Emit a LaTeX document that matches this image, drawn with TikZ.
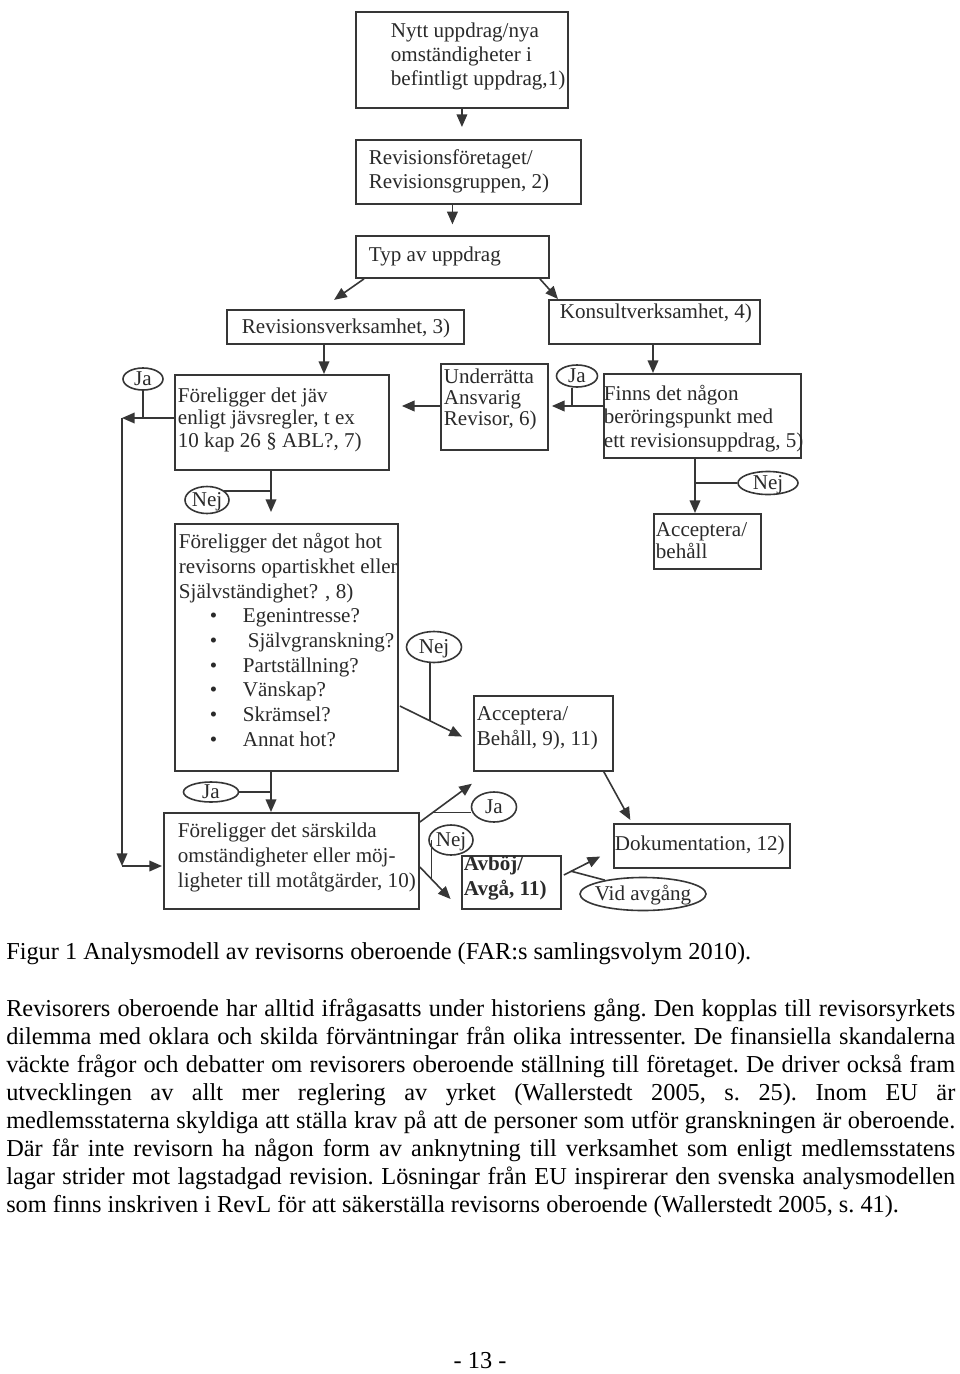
\documentclass[tikz,border=0pt]{standalone}
\usepackage{fontspec}
\setmainfont{Liberation Serif}
\usetikzlibrary{arrows.meta,shapes.geometric}
\newlength\pxu \setlength\pxu{0.75pt}
\definecolor{ink}{HTML}{363636}
\definecolor{txt}{HTML}{2A2A2A}
\newcommand\df[1]{\fontsize{15.8pt}{#1}\selectfont}
\newcommand\bt[4]{\raisebox{#1}[\height][\depth]{\makebox[#2][l]{\hspace*{#3}\begin{tabular}{@{}l@{}}#4\end{tabular}}}}
\newcommand\et[1]{\makebox[0pt]{\raisebox{-4.6pt}[0pt][0pt]{#1}}}
\newcommand\bl[1]{\hspace*{31\pxu}\makebox[33\pxu][l]{\textbullet}#1}
\begin{document}
\begin{tikzpicture}[x=0.75pt,y=-0.75pt,
  box/.style={draw=ink, line width=1.4pt, anchor=north west, inner sep=0pt, text=txt},
  bx/.style 2 args={minimum width=#1*\pxu, minimum height=#2*\pxu},
  ell/.style 2 args={ellipse, draw=ink, line width=1.2pt, inner sep=0pt, minimum width=#1*\pxu, minimum height=#2*\pxu, text=txt, font=\df{18pt}},
  arr/.style={draw=ink, line width=1.2pt, -{Triangle[length=9.5pt,width=8pt]}},
  lnk/.style={draw=ink, line width=1.2pt},
  para/.style={inner sep=0pt, font=\fontsize{18.25pt}{21pt}\selectfont, text=black}]
\path[use as bounding box, fill=white] (0,0) rectangle (960,1374);

% boxes
\node[box, bx={212}{96}, font=\df{18pt}] (b1) at (355,11) {\bt{2.25pt}{212\pxu}{35\pxu}{Nytt uppdrag/nya\\omständigheter i\\befintligt uppdrag,1)}};
\node[box, bx={225}{64}, font=\df{18pt}] (b2) at (355,139) {\bt{0pt}{225\pxu}{13\pxu}{Revisionsföretaget/\\Revisionsgruppen, 2)}};
\node[box, bx={193}{42}, font=\df{18pt}] (b3) at (355,235) {\bt{0pt}{193\pxu}{13\pxu}{Typ av uppdrag}};
\node[box, bx={237}{34}, font=\df{18pt}] (b4) at (226,309) {\bt{-1.5pt}{237\pxu}{15\pxu}{Revisionsverksamhet, 3)}};
\node[box, bx={211}{44}, font=\df{18pt}] (b5) at (548,299) {\bt{6pt}{211\pxu}{11\pxu}{Konsultverksamhet, 4)}};
\node[box, bx={107}{86}, font=\df{16pt}] (b6) at (440,363) {\bt{5pt}{107\pxu}{3\pxu}{Underrätta\\Ansvarig\\Revisor, 6)}};
\node[box, bx={214}{95}, font=\df{16.9pt}] (b7) at (174,374) {\bt{1.5pt}{214\pxu}{3\pxu}{Föreligger det jäv\\enligt jävsregler, t ex\\10 kap 26 § ABL?, 7)}};
\node[box, bx={197}{84}, font=\df{17.6pt}] (b5q) at (603,373) {\bt{-2.5pt}{197\pxu}{0pt}{Finns det någon\\beröringspunkt med\\ett revisionsuppdrag, 5)}};
\node[box, bx={107}{55}, font=\df{14.5pt}] (acc1) at (653,513) {\bt{-1.5pt}{107\pxu}{2\pxu}{Acceptera/\\behåll}};
\node[box, bx={223}{247}, font=\df{18.5pt}] (b8) at (174,523) {\bt{3.75pt}{223\pxu}{4\pxu}{Föreligger det något hot\\revisorns opartiskhet eller\\Självständighet? , 8)\\\bl{Egenintresse?}\\\bl{\hspace*{5\pxu}Självgranskning?}\\\bl{Partställning?}\\\bl{Vänskap?}\\\bl{Skrämsel?}\\\bl{Annat hot?}}};
\node[box, bx={139}{75}, font=\df{18.75pt}] (acc2) at (473,695) {\bt{3.75pt}{139\pxu}{3\pxu}{Acceptera/\\Behåll, 9), 11)}};
\node[box, bx={255}{96}, font=\df{18.75pt}] (b10) at (163,812) {\bt{2.25pt}{255\pxu}{14\pxu}{Föreligger det särskilda\\omständigheter eller möj-\\ligheter till motåtgärder, 10)}};
\node[box, bx={99}{53}, font=\df{18.75pt}\bfseries] (avb) at (461,855) {\bt{3pt}{99\pxu}{2\pxu}{Avböj/\\Avgå, 11)}};
\node[box, bx={176}{44}, font=\df{18pt}] (dok) at (613,823) {\bt{0pt}{176\pxu}{1\pxu}{Dokumentation, 12)}};

% answer ellipses
\node[ell={40}{22}] (ja1) at (143,379) {\et{Ja}};
\node[ell={41}{22}] (ja2) at (577,376) {\et{Ja}};
\node[ell={44}{27}] (nej1) at (207,500) {\et{Nej}};
\node[ell={60}{23}] (nej2) at (768,483) {\et{Nej}};
\node[ell={55}{31}] (nej3) at (434,647) {\et{Nej}};
\node[ell={55}{20}] (ja3) at (211,792) {\et{Ja}};
\node[ell={45}{30}] (ja4) at (494,807) {\et{Ja}};
\node[ell={44}{30}] (nej4) at (451,840) {\et{Nej}};
\node[ell={126}{33}] (vid) at (643,894) {\et{Vid avgång}};

% helper coordinates
\coordinate (lt) at (122,418);
\coordinate (lb) at (122,866);
\coordinate (v78) at ([shift={(97,0)}]b7.south west);
\coordinate (v5a) at ([shift={(92,0)}]b5q.south west);
\coordinate (v810) at ([shift={(97,0)}]b8.south west);

% connectors
\draw[arr, shorten >=9pt] (b1.south) -- (b1.south |- b2.north);
\draw[arr, shorten >=8pt] (b3.north |- b2.south) -- (b3.north);
\draw[arr, shorten >=12pt] ([shift={(9,0)}]b3.south west) -- ([shift={(95,0)}]b4.north west);
\draw[arr] ([shift={(-10,0)}]b3.south east) -- ([shift={(10,0)}]b5.north west);
\draw[arr] ([shift={(98,0)}]b4.south west) -- ([shift={(150,0)}]b7.north west);
\draw[arr] ([shift={(105,0)}]b5.south west) -- ([shift={(50,0)}]b5q.north west);
\draw[arr, shorten >=2.25pt] ([shift={(0,33)}]b5q.north west) -- ([shift={(0,43)}]b6.north east);
\draw[lnk] ([shift={(-5,0)}]ja2.south) -- ([shift={(-31,33)}]b5q.north west);
\draw[arr, shorten >=9pt] ([shift={(0,43)}]b6.north west) -- ([shift={(0,32)}]b7.north east);
\draw[arr] ([shift={(0,44)}]b7.north west) -- (lt);
\draw[lnk] (ja1.south) -- (ja1.south |- lt);
\draw[arr] (lt) -- (lb);
\draw[arr, shorten >=0.75pt] (lb) -- (lb -| b10.west);
\draw[arr, shorten >=8.25pt] (v78) -- (v78 |- b8.north);
\draw[lnk] (nej1.28) -- (nej1.28 -| v78);
\draw[arr] (v5a) -- (v5a |- acc1.north);
\draw[lnk] (nej2.west) -- (nej2.west -| v5a);
\draw[arr, shorten >=9.2pt] ([shift={(1,183)}]b8.north east) -- coordinate[pos=0.413] (d8) ([shift={(0,47)}]acc2.north west);
\draw[lnk] (d8 |- nej3.south) -- (d8);
\draw[arr] (v810) -- (v810 |- b10.north);
\draw[lnk] (ja3.east) -- (ja3.east -| v810);
\draw[arr, shorten >=15pt] ([shift={(0,10)}]b10.north east) -- coordinate[pos=0.192] (d10) ([shift={(15,0)}]acc2.south west);
\draw[lnk] (d10) -- (d10 -| ja4.west);
\draw[arr, shorten >=11.3pt] ([shift={(0,55)}]b10.north east) -- coordinate[pos=0.28] (d22) (avb.south west);
\draw[lnk] (d22 |- nej4.west) -- (d22);
\draw[arr, shorten >=10.8pt] ([shift={(2,20)}]avb.north east) -- coordinate[pos=0.15] (d24) ([shift={(0,27)}]dok.north west);
\draw[lnk] (d24) -- (vid.160);
\draw[arr, shorten >=2.6pt] ([shift={(-10,0)}]acc2.south east) -- ([shift={(19,0)}]dok.north west);

% text below the figure
\node[para, anchor=base west] (cap) at (6,959) {Figur 1 Analysmodell av revisorns oberoende (FAR:s samlingsvolym 2010).};
\node[para, anchor=base west, text width=949*\pxu, align=justify] (body) at (6,1016) {\frenchspacing\hyphenpenalty=10000 Revisorers oberoende har alltid ifrågasatts under historiens gång. Den kopplas till revisorsyrkets\linebreak dilemma med oklara och skilda förväntningar från olika intressenter. De finansiella skandalerna\linebreak väckte frågor och debatter om revisorers oberoende ställning till företaget. De driver också fram\linebreak utvecklingen av allt mer reglering av yrket (Wallerstedt 2005, s. 25). Inom EU är\linebreak medlemsstaterna skyldiga att ställa krav på att de personer som utför granskningen är oberoende.\linebreak Där får inte revisorn ha någon form av anknytning till verksamhet som enligt medlemsstatens\linebreak lagar strider mot lagstadgad revision. Lösningar från EU inspirerar den svenska analysmodellen\linebreak som finns inskriven i RevL för att säkerställa revisorns oberoende (Wallerstedt 2005, s. 41).};
\node[para, anchor=base] (pg) at (480,1368) {- 13 -};
\end{tikzpicture}
\end{document}
